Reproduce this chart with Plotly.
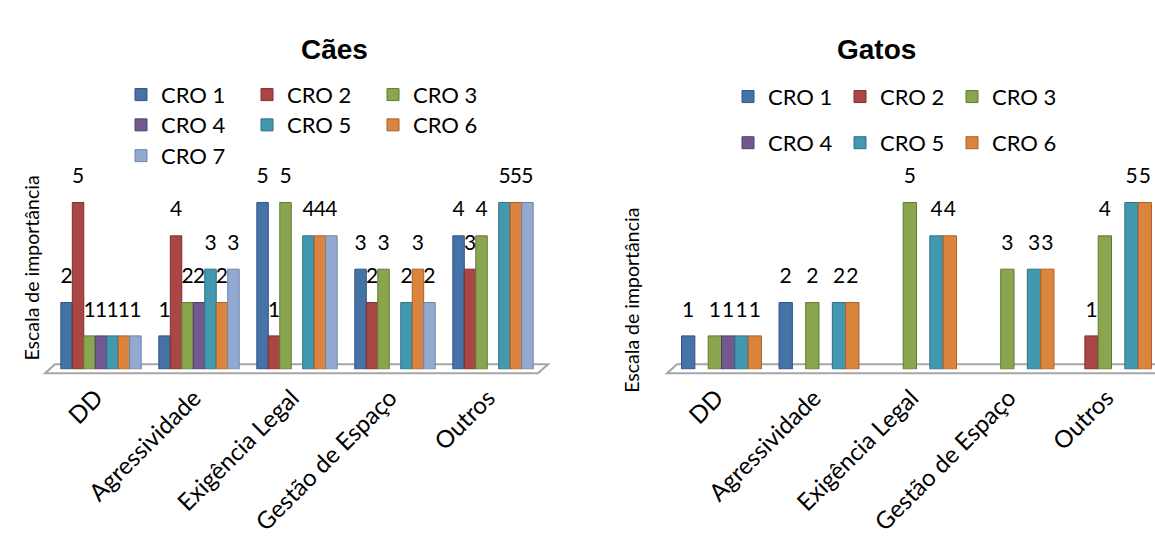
import plotly.graph_objects as go

# ---- data -------------------------------------------------------------
categories = ["DD", "Agressividade", "Exigência Legal", "Gestão de Espaço", "Outros"]

caes_names = ["CRO 1", "CRO 2", "CRO 3", "CRO 4", "CRO 5", "CRO 6", "CRO 7"]
caes_cro1 = [2, 1, 5, 3, 4]
caes_cro2 = [5, 4, 1, 2, 3]
caes_cro3 = [1, 2, 5, 3, 4]
caes_cro4 = [1, 2, None, None, None]
caes_cro5 = [1, 3, 4, 2, 5]
caes_cro6 = [1, 2, 4, 3, 5]
caes_cro7 = [1, 3, 4, 2, 5]

gatos_names = ["CRO 1", "CRO 2", "CRO 3", "CRO 4", "CRO 5", "CRO 6"]
gatos_cro1 = [1, 2, None, None, None]
gatos_cro2 = [None, None, None, None, 1]
gatos_cro3 = [1, 2, 5, 3, 4]
gatos_cro4 = [1, None, None, None, None]
gatos_cro5 = [1, 2, 4, 3, 5]
gatos_cro6 = [1, 2, 4, 3, 5]

colors = ["#4572A7", "#AA4643", "#89A54E", "#71588F", "#4198AF", "#DB843D", "#93A9CF"]
edges = ["#2F5483", "#7F302E", "#627A34", "#51406A", "#2C7186", "#AD6127", "#6C84AC"]

W, H = 1155, 536
FONT = "Lato"


def px(x):
    return x / W


def py(y):
    return 1 - y / H


fig = go.Figure()

caes_series = [caes_cro1, caes_cro2, caes_cro3, caes_cro4, caes_cro5, caes_cro6, caes_cro7]
caes_legends = ["legend", "legend", "legend", "legend2", "legend2", "legend2", "legend3"]
gatos_series = [gatos_cro1, gatos_cro2, gatos_cro3, gatos_cro4, gatos_cro5, gatos_cro6]
gatos_legends = ["legend4", "legend4", "legend4", "legend5", "legend5", "legend5"]


def add_panel(names, series, legends, xa, ya):
    for i, (name, vals) in enumerate(zip(names, series)):
        fig.add_trace(go.Bar(
            x=categories, y=vals, name=name, xaxis=xa, yaxis=ya,
            marker=dict(color=colors[i], line=dict(color=edges[i], width=1)),
            legend=legends[i], hoverinfo="skip",
        ))
    # value labels, grouped the same way as the bars
    for i, (name, vals) in enumerate(zip(names, series)):
        fig.add_trace(go.Scatter(
            x=categories, y=vals, xaxis=xa, yaxis=ya,
            mode="markers+text",
            text=["" if v is None else str(v) for v in vals],
            textposition="top center",
            textfont=dict(family=FONT, size=21, color="black"),
            marker=dict(size=21, opacity=0),
            showlegend=False, hoverinfo="skip", cliponaxis=False,
        ))


add_panel(caes_names, caes_series, caes_legends, "x", "y")
add_panel(gatos_names, gatos_series, gatos_legends, "x2", "y2")

# floors of the two panels
floor_style = dict(type="path", xref="paper", yref="paper",
                   line=dict(color="#A6A6A6", width=2), fillcolor="rgba(0,0,0,0)", layer="below")
fig.add_shape(path=f"M{px(45)},{py(376)} L{px(538)},{py(376)} L{px(548)},{py(367)} L{px(55)},{py(367)} Z",
              **floor_style)
fig.add_shape(path=f"M{px(667)},{py(376)} L{px(1175)},{py(376)} L{px(1185)},{py(367)} L{px(677)},{py(367)} Z",
              **floor_style)

# titles
fig.add_annotation(text="<b>Cães</b>", x=px(299), y=py(32), xref="paper", yref="paper",
                   showarrow=False, font=dict(family="Liberation Sans", size=28, color="black"))
fig.add_annotation(text="<b>Gatos</b>", x=px(918), y=py(32), xref="paper", yref="paper",
                   showarrow=False, font=dict(family="Liberation Sans", size=28, color="black"))
fig.add_annotation(text="Escala de importância", x=px(18), y=py(270), xref="paper", yref="paper",
                   showarrow=False, textangle=-90, font=dict(family=FONT, size=19.5, color="black"))
fig.add_annotation(text="Escala de importância", x=px(632), y=py(303), xref="paper", yref="paper",
                   showarrow=False, textangle=-90, font=dict(family=FONT, size=19.5, color="black"))

xaxis_style = dict(type="category", showgrid=False, zeroline=False, showline=False, ticks="",
                   tickangle=-45, tickfont=dict(family=FONT, size=24, color="black"),
                   ticklabelstandoff=9, ticklabelshift=-5, fixedrange=True)
yaxis_style = dict(range=[0, 6], showgrid=False, zeroline=False, showline=False,
                   showticklabels=False, ticks="", fixedrange=True)

ydom = [(H - 372) / H, (H - 170.4) / H]

legend_style = dict(orientation="h", xanchor="left", yanchor="middle", bgcolor="rgba(0,0,0,0)",
                    font=dict(family=FONT, size=22, color="black"), entrywidthmode="pixels",
                    tracegroupgap=0, itemclick=False, itemdoubleclick=False)

fig.update_layout(
    width=W, height=H,
    margin=dict(l=0, r=0, t=0, b=0),
    paper_bgcolor="white", plot_bgcolor="rgba(0,0,0,0)",
    barmode="group", bargap=0.18, bargroupgap=0,
    scattermode="group", scattergap=0.18,
    xaxis=dict(domain=[px(52), px(542)], range=[-0.5, 4.5], anchor="y", **xaxis_style),
    yaxis=dict(domain=ydom, anchor="x", **yaxis_style),
    xaxis2=dict(domain=[px(672.75), 1], range=[-0.5, 4.446], anchor="y2", **xaxis_style),
    yaxis2=dict(domain=ydom, anchor="x2", **yaxis_style),
    legend=dict(x=px(121), y=py(95.5), entrywidth=81, **legend_style),
    legend2=dict(x=px(121), y=py(126), entrywidth=81, **legend_style),
    legend3=dict(x=px(121), y=py(157), entrywidth=81, **legend_style),
    legend4=dict(x=px(728), y=py(97.5), entrywidth=67, **legend_style),
    legend5=dict(x=px(728), y=py(144), entrywidth=67, **legend_style),
    showlegend=True,
)

fig.write_html("out.html")
